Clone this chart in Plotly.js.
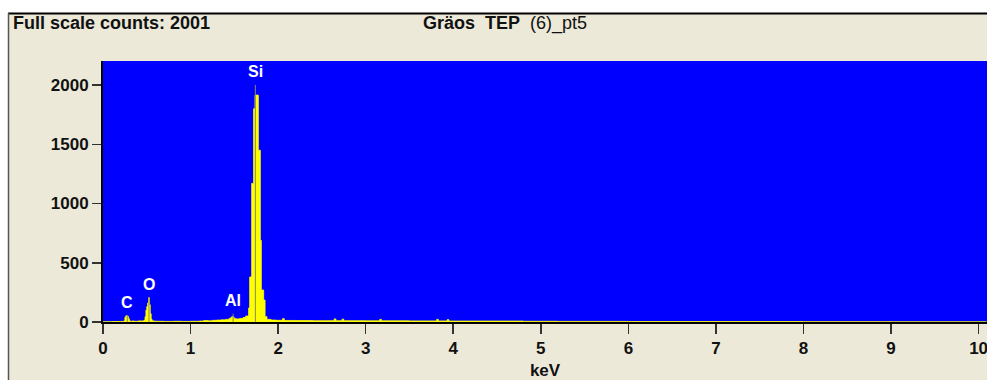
<!DOCTYPE html>
<html>
<head>
<meta charset="utf-8">
<script src="https://cdn.plot.ly/plotly-3.0.1.min.js"></script>
<style>html,body{margin:0;padding:0;background:#fff;}#chart{width:987px;height:380px;}</style>
</head>
<body>
<div id="chart"></div>
<script>
// Spectrum channels (left edge of each step, keV) and counts
const energy = [0.00, 0.10, 0.20, 0.24, 0.25, 0.26, 0.28, 0.29, 0.30, 0.31, 0.33, 0.36, 0.40, 0.44, 0.46, 0.47, 0.48, 0.49, 0.50, 0.51, 0.52, 0.53, 0.54, 0.55, 0.56, 0.58, 0.62, 0.70, 0.80, 0.90, 1.00, 1.10, 1.15, 1.20, 1.25, 1.30, 1.35, 1.40, 1.44, 1.46, 1.47, 1.49, 1.50, 1.52, 1.56, 1.60, 1.63, 1.663, 1.675, 1.698, 1.720, 1.736, 1.774, 1.797, 1.808, 1.835, 1.851, 1.873, 1.92, 1.98, 2.05, 2.07, 2.20, 2.40, 2.64, 2.66, 2.73, 2.75, 3.00, 3.16, 3.18, 3.50, 3.81, 3.83, 3.93, 3.95, 4.30, 4.80, 5.20, 6.00, 7.00, 8.00, 8.90, 9.00, 10.09];
const counts = [3, 4, 5, 10, 40, 52, 48, 30, 12, 6, 8, 6, 9, 8, 10, 15, 45, 100, 130, 160, 205, 145, 70, 25, 10, 7, 6, 5, 6, 5, 6, 8, 12, 10, 14, 16, 18, 22, 30, 38, 45, 38, 28, 26, 30, 38, 50, 118, 380, 1170, 1800, 1915, 1450, 690, 270, 185, 45, 22, 16, 14, 28, 13, 12, 11, 26, 11, 24, 11, 10, 22, 10, 9, 22, 9, 20, 8, 8, 6, 5, 4, 4, 3, 3, 2, 2];

// Element identification markers
const elements = ['C', 'O', 'Al', 'Si'];
const elementEnergy = [0.277, 0.525, 1.486, 1.740];
const elementTop = [52, 205, 70, 2001];

const xTicks = [0, 1, 2, 3, 4, 5, 6, 7, 8, 9, 10];
const yTicks = [0, 500, 1000, 1500, 2000];

const fullScale = 'Full scale counts: 2001';
const sampleName = '<b>Gräos&nbsp; TEP</b>&nbsp; (6)_pt5';

const FONT = 'Liberation Sans, Arial, Helvetica, sans-serif';

// marker lines built from element arrays
const mx = [], my = [];
elementEnergy.forEach((e, i) => { mx.push(e, e, null); my.push(0, elementTop[i], null); });

const traces = [
  {
    x: energy, y: counts, type: 'scatter', mode: 'lines',
    line: {shape: 'hv', color: '#FFFF00', width: 0.8},
    fill: 'tozeroy', fillcolor: '#FFFF00', hoverinfo: 'x+y'
  },
  {
    x: mx, y: my, type: 'scatter', mode: 'lines',
    line: {color: '#8a8a5a', width: 1}, hoverinfo: 'skip'
  }
];

const W = 987, H = 380, L = 103, R = 0, T = 61, B = 58;
const pw = W - L - R, ph = H - T - B;
const px = v => (v - L) / pw;          // pixel -> paper x
const py = v => (H - B - v) / ph;      // pixel -> paper y

const annotations = elements.map((name, i) => ({
  x: elementEnergy[i], y: elementTop[i], xref: 'x', yref: 'y',
  text: '<b>' + name + '</b>', showarrow: false, yanchor: 'middle', yshift: 13,
  font: {family: FONT, size: 16, color: '#FFFFFF'}
}));
annotations.push({
  x: px(11), y: py(23), xref: 'paper', yref: 'paper', xanchor: 'left', yanchor: 'middle',
  text: '<b>' + fullScale + '</b>', showarrow: false,
  font: {family: FONT, size: 18, color: '#111'}
});
annotations.push({
  x: px(505), y: py(23), xref: 'paper', yref: 'paper', xanchor: 'center', yanchor: 'middle',
  text: sampleName, showarrow: false,
  font: {family: FONT, size: 18, color: '#111'}
});

const shapes = [
  {type: 'rect', xref: 'paper', yref: 'paper', x0: px(-5), x1: px(W + 5), y0: py(13), y1: py(-5), fillcolor: '#FFFFFF', line: {width: 0}, layer: 'above'},
  {type: 'rect', xref: 'paper', yref: 'paper', x0: px(-5), x1: px(8), y0: py(H + 5), y1: py(-5), fillcolor: '#FFFFFF', line: {width: 0}, layer: 'above'},
  {type: 'line', xref: 'paper', yref: 'paper', x0: px(8), x1: px(W + 5), y0: py(13.5), y1: py(13.5), line: {color: '#000', width: 2}, layer: 'above'},
  {type: 'line', xref: 'paper', yref: 'paper', x0: px(8.5), x1: px(8.5), y0: py(13), y1: py(H + 5), line: {color: '#555', width: 1.5}, layer: 'above'}
];

const layout = {
  width: W, height: H,
  margin: {l: L, r: R, t: T, b: B, pad: 0},
  paper_bgcolor: '#ECE9D8', plot_bgcolor: '#0000FF',
  showlegend: false,
  font: {family: FONT, color: '#111'},
  xaxis: {
    range: [0, 10.096], tickvals: xTicks, ticktext: xTicks.map(String),
    ticks: 'outside', ticklen: 10, tickwidth: 1.5, tickcolor: '#333',
    ticklabeloverflow: 'allow',
    showline: true, linecolor: '#000', linewidth: 2, showgrid: false, zeroline: false,
    tickfont: {family: FONT, size: 17, weight: 'bold', color: '#111'},
    title: {text: '<b>keV</b>', font: {family: FONT, size: 17, color: '#111'}, standoff: 9},
    fixedrange: true
  },
  yaxis: {
    range: [0, 2203], tickvals: yTicks, ticktext: yTicks.map(String),
    ticks: 'outside', ticklen: 9, tickwidth: 1.5, tickcolor: '#333',
    showline: true, linecolor: '#000', linewidth: 2, showgrid: false, zeroline: false,
    tickfont: {family: FONT, size: 17, weight: 'bold', color: '#111'},
    fixedrange: true
  },
  annotations: annotations,
  shapes: shapes
};

Plotly.newPlot('chart', traces, layout, {displayModeBar: false, staticPlot: true});
</script>
</body>
</html>
